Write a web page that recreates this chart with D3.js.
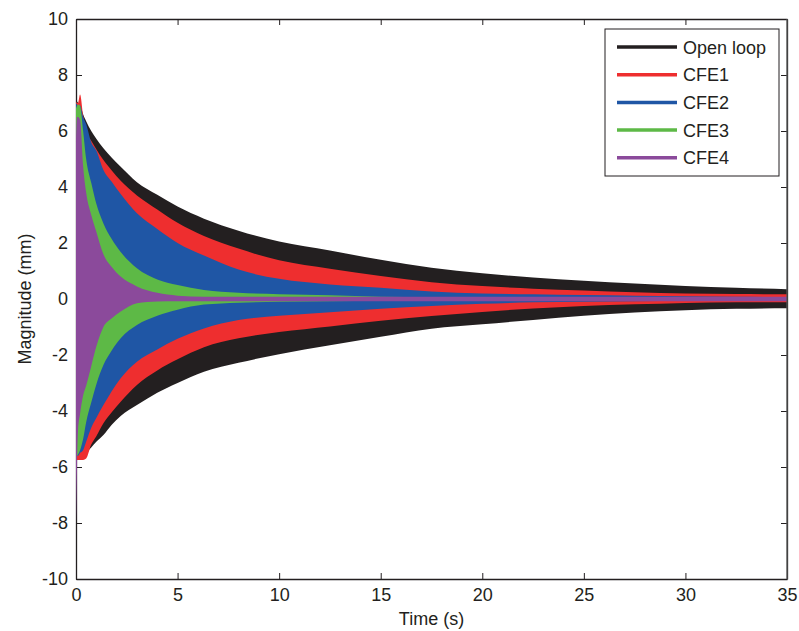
<!DOCTYPE html>
<html>
<head>
<meta charset="utf-8">
<script src="https://cdn.jsdelivr.net/npm/d3@7"></script>
<style>
  body { margin: 0; background: #fff; }
  svg { font-family: "Liberation Sans", Arial, sans-serif; }
  .tick text { font-size: 18px; fill: #231f20; }
</style>
</head>
<body>
<svg width="799" height="631"></svg>
<script>
// time samples (s) where the oscillation envelopes were read
const times = [0, 0.05, 0.1, 0.2, 0.35, 0.5, 0.75, 1, 1.35, 1.75, 2.2, 3, 4, 5, 6.3, 8, 10, 12.5, 15, 17.5, 20, 22.5, 25, 27.5, 30, 32.5, 35];

// upper / lower envelope of each response (mm)
const openLoopUpper = [7.05, 7.05, 7.0, 6.95, 6.6, 6.35, 6.0, 5.72, 5.38, 5.05, 4.72, 4.17, 3.72, 3.3, 2.87, 2.44, 2.05, 1.73, 1.4, 1.12, 0.92, 0.77, 0.65, 0.55, 0.46, 0.4, 0.35];
const openLoopLower = [-5.6, -5.6, -5.65, -5.65, -5.6, -5.5, -5.3, -5.1, -4.86, -4.5, -4.18, -3.79, -3.35, -3.0, -2.6, -2.28, -1.97, -1.65, -1.35, -1.06, -0.9, -0.75, -0.6, -0.48, -0.4, -0.35, -0.33];
const cfe1Upper = [7.05, 7.0, 7.0, 7.3, 6.55, 6.0, 5.65, 5.35, 4.96, 4.6, 4.22, 3.7, 3.2, 2.72, 2.25, 1.8, 1.38, 1.08, 0.82, 0.6, 0.46, 0.37, 0.3, 0.24, 0.2, 0.18, 0.17];
const cfe1Lower = [-5.7, -5.75, -5.75, -5.75, -5.75, -5.7, -5.2, -4.9, -4.44, -4.05, -3.67, -3.07, -2.55, -2.15, -1.72, -1.4, -1.18, -0.98, -0.78, -0.61, -0.46, -0.34, -0.25, -0.19, -0.14, -0.12, -0.12];
const cfe2Upper = [7.0, 6.95, 6.9, 6.9, 6.5, 6.25, 5.6, 5.3, 4.61, 4.2, 3.75, 3.06, 2.5, 2.0, 1.55, 1.05, 0.72, 0.52, 0.4, 0.27, 0.2, 0.17, 0.14, 0.12, 0.1, 0.08, 0.07];
const cfe2Lower = [-5.6, -5.6, -5.6, -5.5, -5.4, -5.1, -4.6, -4.25, -3.79, -3.3, -2.83, -2.24, -1.8, -1.42, -1.05, -0.75, -0.6, -0.47, -0.35, -0.25, -0.17, -0.12, -0.1, -0.08, -0.07, -0.06, -0.06];
const cfe3Upper = [6.8, 6.9, 6.95, 6.9, 6.0, 5.0, 4.15, 3.4, 2.7, 2.15, 1.68, 1.1, 0.7, 0.5, 0.32, 0.22, 0.17, 0.13, 0.08, 0.06, 0.05, 0.05, 0.05, 0.05, 0.05, 0.05, 0.05];
const cfe3Lower = [-5.6, -5.6, -5.55, -5.4, -5.0, -4.4, -3.7, -3.05, -2.36, -1.85, -1.4, -0.93, -0.6, -0.38, -0.2, -0.13, -0.1, -0.08, -0.06, -0.05, -0.05, -0.05, -0.05, -0.05, -0.05, -0.05, -0.05];
const cfe4Upper = [5.6, 6.5, 6.5, 6.4, 4.75, 3.8, 3.0, 2.4, 1.6, 1.15, 0.8, 0.45, 0.22, 0.12, 0.08, 0.08, 0.08, 0.08, 0.08, 0.08, 0.08, 0.08, 0.08, 0.08, 0.08, 0.08, 0.08];
const cfe4Lower = [-8.0, -6.0, -4.7, -4.1, -3.45, -3.1, -2.4, -1.7, -1.0, -0.7, -0.45, -0.15, -0.09, -0.08, -0.08, -0.08, -0.08, -0.08, -0.08, -0.08, -0.08, -0.08, -0.08, -0.08, -0.08, -0.08, -0.08];

const seriesNames = ['Open loop', 'CFE1', 'CFE2', 'CFE3', 'CFE4'];
const seriesColors = ['#231f20', '#ee2e2f', '#1f56a5', '#5db946', '#8b4a9b'];
const uppers = [openLoopUpper, cfe1Upper, cfe2Upper, cfe3Upper, cfe4Upper];
const lowers = [openLoopLower, cfe1Lower, cfe2Lower, cfe3Lower, cfe4Lower];

const xTicks = [0, 5, 10, 15, 20, 25, 30, 35];
const yTicks = [-10, -8, -6, -4, -2, 0, 2, 4, 6, 8, 10];

const plotLeft = 76, plotTop = 19, plotRight = 787, plotBottom = 579;

const svg = d3.select('svg');

const xScale = d3.scaleLinear().domain([0, 35]).range([plotLeft, plotRight]);
const yScale = d3.scaleLinear().domain([-10, 10]).range([plotBottom, plotTop]);

// plain hyphen minus like the original figure
const plainFormat = d => String(d);

// axes (inward ticks, MATLAB style box)
svg.append('g')
  .attr('transform', 'translate(0,' + plotBottom + ')')
  .call(d3.axisBottom(xScale).tickValues(xTicks).tickFormat(plainFormat).tickSizeInner(-6).tickSizeOuter(0).tickPadding(9));
svg.append('g')
  .attr('transform', 'translate(' + plotLeft + ',0)')
  .call(d3.axisLeft(yScale).tickValues(yTicks).tickFormat(plainFormat).tickSizeInner(-6).tickSizeOuter(0).tickPadding(8));
svg.append('g')
  .attr('transform', 'translate(0,' + plotTop + ')')
  .call(d3.axisTop(xScale).tickValues(xTicks).tickSizeInner(-6).tickSizeOuter(0).tickFormat(''));
svg.append('g')
  .attr('transform', 'translate(' + plotRight + ',0)')
  .call(d3.axisRight(yScale).tickValues(yTicks).tickSizeInner(-6).tickSizeOuter(0).tickFormat(''));

svg.selectAll('.domain').attr('stroke', '#231f20').attr('stroke-width', 1.3);
svg.selectAll('.tick line').attr('stroke', '#231f20');

// envelopes, back to front
const rows = times.map((t, i) => ({ t: t, i: i }));
seriesNames.forEach((name, k) => {
  const area = d3.area()
    .x(d => xScale(d.t))
    .y0(d => yScale(lowers[k][d.i]))
    .y1(d => yScale(uppers[k][d.i]))
    .curve(d3.curveMonotoneX);
  svg.append('path')
    .datum(rows)
    .attr('d', area)
    .attr('fill', seriesColors[k]);
});

// redraw right border on top of the data
svg.append('line')
  .attr('x1', plotRight).attr('x2', plotRight)
  .attr('y1', plotTop).attr('y2', plotBottom)
  .attr('stroke', '#555').attr('stroke-width', 1.3);

// axis titles
svg.append('text')
  .attr('x', (plotLeft + plotRight) / 2)
  .attr('y', 625)
  .attr('text-anchor', 'middle')
  .attr('font-size', 18)
  .attr('fill', '#231f20')
  .text('Time (s)');

svg.append('text')
  .attr('transform', 'translate(31,' + (plotTop + plotBottom) / 2 + ') rotate(-90)')
  .attr('text-anchor', 'middle')
  .attr('font-size', 18)
  .attr('fill', '#231f20')
  .text('Magnitude (mm)');

// legend
const legend = svg.append('g');
legend.append('rect')
  .attr('x', 605).attr('y', 29)
  .attr('width', 174).attr('height', 147)
  .attr('fill', '#fff')
  .attr('stroke', '#231f20');

seriesNames.forEach((name, k) => {
  const cy = 47 + k * 27.7;
  legend.append('line')
    .attr('x1', 617).attr('x2', 677)
    .attr('y1', cy).attr('y2', cy)
    .attr('stroke', seriesColors[k])
    .attr('stroke-width', 3.5);
  legend.append('text')
    .attr('x', 683)
    .attr('y', cy + 6.5)
    .attr('font-size', 18)
    .attr('fill', '#231f20')
    .text(name);
});
</script>
</body>
</html>
